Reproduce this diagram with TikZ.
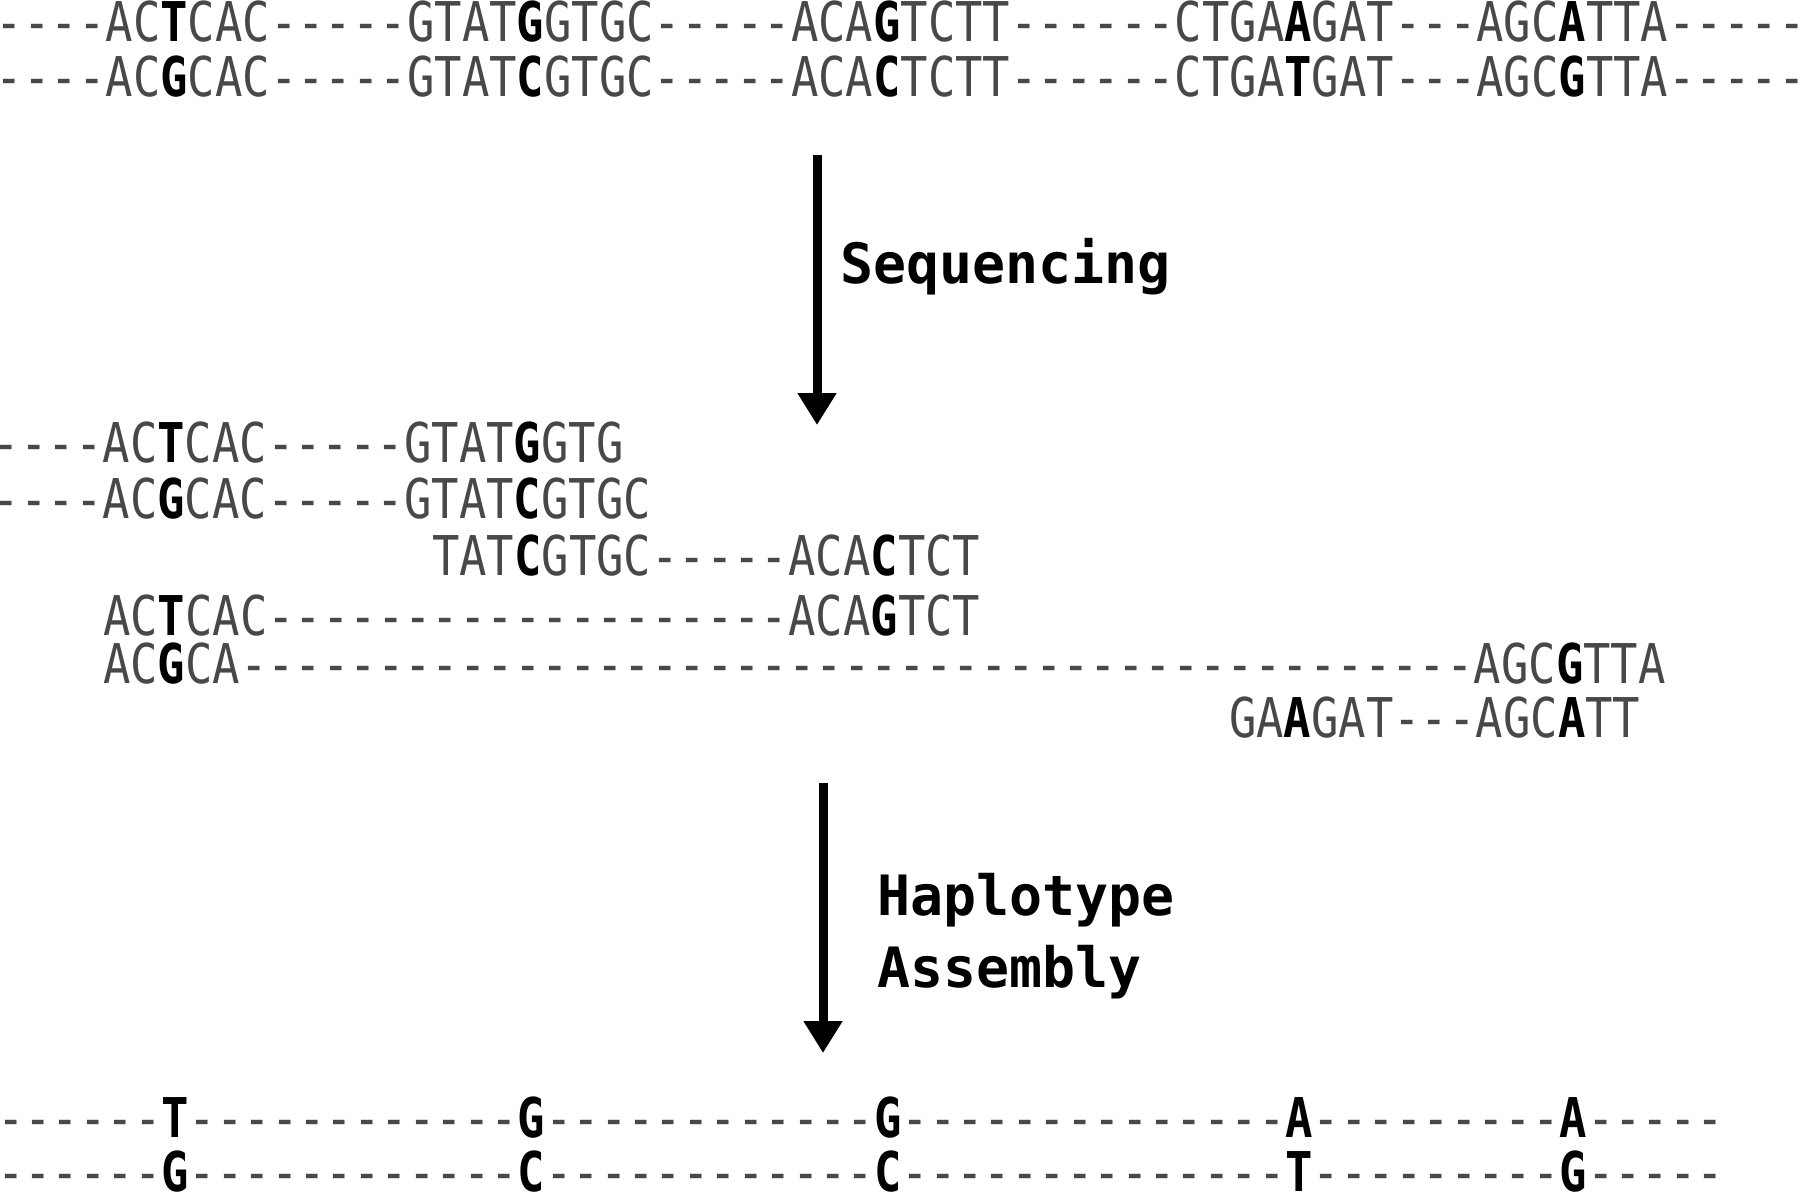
\documentclass[tikz,border=0pt]{standalone}
\usepackage{fontspec}
\usetikzlibrary{arrows.meta}
\newfontfamily\seqfont[FakeStretch=0.831,Ligatures=TeXOff]{DejaVu Sans Mono}
\newfontfamily\seqbold[FakeStretch=0.831,Ligatures=TeXOff]{DejaVu Sans Mono Bold}
\newfontfamily\labfont[FakeStretch=0.987,Ligatures=TeXOff]{DejaVu Sans Mono Bold}
\definecolor{seqgray}{RGB}{72,72,72}
\newcommand\snp[1]{{\seqbold\color{black}#1}}
\tikzset{
  seqrow/.style={anchor=base west, inner sep=0pt, outer sep=0pt, text=seqgray,
    font={\fontsize{27.4pt}{30pt}\seqfont}},
  steplabel/.style={anchor=base west, inner sep=0pt, outer sep=0pt, text=black,
    font={\fontsize{27.8pt}{36pt}\labfont}},
  bigarrow/.style={line width=4.5pt, -{Triangle[width=18.5pt,length=16pt]}}
}
\begin{document}
\begin{tikzpicture}[x=0.5pt,y=-0.5pt]
\useasboundingbox (0,0) rectangle (1800,1193);
% genome (two haplotypes)
\node[seqrow] (h1) at (-4,42) {----AC\snp{T}CAC-----GTAT\snp{G}GTGC-----ACA\snp{G}TCTT------CTGA\snp{A}GAT---AGC\snp{A}TTA-----};
\node[seqrow] (h2) at (-4,97) {----AC\snp{G}CAC-----GTAT\snp{C}GTGC-----ACA\snp{C}TCTT------CTGA\snp{T}GAT---AGC\snp{G}TTA-----};
% arrow 1
\coordinate (a1s) at (817,155);
\coordinate (a1e) at (817,425);
\draw[bigarrow] (a1s) -- (a1e);
\node[steplabel] (lseq) at (840,283) {Sequencing};
% reads
\node[seqrow] (rd1) at (-7,462) {----AC\snp{T}CAC-----GTAT\snp{G}GTG};
\node[seqrow] (rd2) at (-7,518) {----AC\snp{G}CAC-----GTAT\snp{C}GTGC};
\node[seqrow] (rd3) at (432,575) {TAT\snp{C}GTGC-----ACA\snp{C}TCT};
\node[seqrow] (rd4) at (103,635) {AC\snp{T}CAC-------------------ACA\snp{G}TCT};
\node[seqrow] (rd5) at (103,683) {AC\snp{G}CA---------------------------------------------AGC\snp{G}TTA};
\node[seqrow] (rd6) at (1229,737) {GA\snp{A}GAT---AGC\snp{A}TT};
% arrow 2
\coordinate (a2s) at (823,783);
\coordinate (a2e) at (823,1053);
\draw[bigarrow] (a2s) -- (a2e);
\node[steplabel] (lhap) at (877,915) {Haplotype};
\node[steplabel] (lasm) at (877,987) {Assembly};
% assembled haplotypes
\node[seqrow] (s1) at (-3,1137) {------\snp{T}------------\snp{G}------------\snp{G}--------------\snp{A}---------\snp{A}-----};
\node[seqrow] (s2) at (-3,1191) {------\snp{G}------------\snp{C}------------\snp{C}--------------\snp{T}---------\snp{G}-----};
\end{tikzpicture}
\end{document}
